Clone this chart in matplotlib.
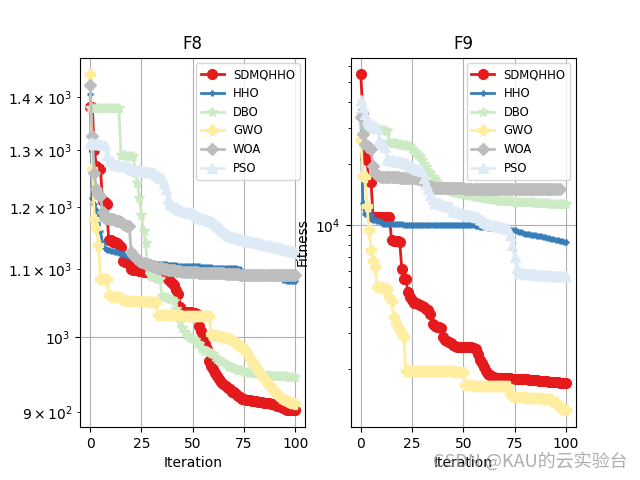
import numpy as np
import matplotlib
matplotlib.use("Agg")
import matplotlib.pyplot as plt

names = ["SDMQHHO", "HHO", "DBO", "GWO", "WOA", "PSO"]
colors = ["#e41a1c", "#377eb8", "#ccebc5", "#ffeda0", "#bdbdbd", "#deebf7"]
markers = ["o", "+", "*", "P", "D", "^"]
titles = ["F8", "F9"]

# ---------------- F8 ----------------
f8_sdmqhho = [1380, 1380, 1300, 1270, 1268, 1265, 1210, 1208, 1205,
              1145, 1145, 1143, 1142, 1140, 1138, 1135,
              1112, 1110, 1110, 1108,
              1100, 1099, 1098, 1098, 1097, 1097, 1096, 1096, 1095, 1095, 1094,
              1093, 1092, 1092, 1091, 1090, 1089, 1087,
              1085, 1082, 1078, 1075, 1068, 1062, 1043,
              1036, 1036, 1035, 1035, 1035, 1034, 1034, 1033,
              1016, 1008, 1001, 990, 983, 967, 960, 956, 951, 946, 943, 938, 936, 934,
              931, 929, 926, 925, 923, 921, 919, 917, 916, 915,
              915, 915, 914, 914, 914, 913, 913, 913, 912,
              911, 911, 910, 910, 909, 908, 907, 906, 905, 904,
              903, 903, 902, 902, 902]
f8_hho = [1405, 1215, 1205, 1195, 1182, 1160, 1140, 1132,
          1130, 1129, 1128, 1128, 1127, 1126, 1125, 1124, 1123, 1122, 1121,
          1120, 1119, 1118, 1117, 1116, 1115, 1114, 1113, 1112, 1111, 1110, 1109,
          1108, 1108, 1108, 1107, 1107, 1107, 1107, 1106, 1106, 1106, 1106, 1106,
          1105, 1105, 1105, 1105, 1105, 1105, 1104, 1104,
          1104, 1104, 1104, 1103, 1103, 1103, 1103, 1103, 1103, 1102, 1102, 1102,
          1102, 1102, 1102, 1102, 1101, 1101, 1101, 1101, 1101, 1100, 1100,
          1092, 1092, 1091, 1091, 1091, 1090, 1090, 1090, 1090, 1089, 1089, 1089,
          1089, 1088, 1088, 1088, 1088, 1087, 1087, 1087,
          1083, 1083, 1082, 1082, 1082, 1082, 1082]
f8_dbo = [1378] * 15 + [1290, 1290, 1290, 1289, 1289, 1288, 1288,
          1258, 1240, 1215, 1186, 1160, 1140, 1100,
          1090, 1088, 1087, 1086, 1085, 1085,
          1059, 1058, 1057, 1056, 1055, 1054, 1052,
          1040, 1030, 1021, 1012, 1007, 1002, 1000, 998, 997, 995, 992, 990, 985,
          983, 981, 980, 979, 978, 976, 972, 970, 968, 966, 965, 963, 960, 959,
          958, 957, 956, 955, 955, 954, 953,
          952, 952, 951, 951, 950, 950, 949, 949, 949, 948,
          948, 948, 947, 947, 947, 947, 946, 946, 946, 946, 946, 945, 945, 945, 945]
f8_gwo = [1445, 1265, 1180, 1165, 1137, 1085, 1085, 1084, 1084,
          1060, 1059, 1058, 1058, 1057, 1057, 1056,
          1053, 1053, 1052, 1052, 1052, 1052, 1052, 1051, 1051, 1051, 1051, 1051,
          1050, 1050, 1050, 1050, 1050,
          1031, 1031, 1031, 1031, 1031, 1031, 1031, 1031, 1031, 1031, 1031, 1031, 1030,
          1030, 1030, 1030, 1030, 1030, 1030, 1030, 1030, 1030, 1030, 1030, 1030, 1030,
          1004, 1002, 1002, 1001, 1001, 1000, 1000, 999, 998, 997,
          995, 993, 991, 989, 987, 985, 983,
          980, 975, 970, 966, 962, 958, 954, 950, 946, 942, 938, 935, 932, 929, 926,
          923, 920, 918, 916, 915, 914, 913, 912, 911, 910]
f8_woa = [1424, 1325, 1258, 1230, 1222, 1218, 1192,
          1182, 1181, 1180, 1180, 1179, 1178, 1177, 1176, 1175,
          1172, 1170, 1169, 1168,
          1127, 1122, 1118, 1115, 1113, 1111, 1109, 1108, 1107, 1106, 1105,
          1104, 1103, 1102, 1101, 1101, 1100, 1100, 1099, 1099, 1098,
          1098, 1097, 1097, 1097, 1096, 1096, 1096, 1096, 1095, 1095,
          1095, 1095, 1094, 1094, 1094, 1094, 1094, 1093, 1093, 1093,
          1093, 1093, 1093, 1093, 1093, 1092, 1092, 1092, 1092, 1092,
          1092, 1092, 1091, 1091, 1091, 1091, 1091, 1091, 1091, 1091,
          1091, 1090, 1090, 1090, 1090, 1090, 1090, 1090, 1090, 1090,
          1090, 1090, 1090, 1090, 1090, 1090, 1090, 1090, 1090, 1090]
f8_pso = [1312, 1312, 1311, 1311, 1310, 1310, 1309, 1308,
          1290, 1280, 1279, 1278,
          1273, 1272, 1272, 1271, 1271, 1270, 1270, 1269,
          1265, 1264, 1264, 1263, 1263, 1262, 1262, 1261, 1261, 1260, 1260, 1259,
          1255, 1253, 1250, 1249, 1240, 1230, 1214, 1206, 1203,
          1200, 1199, 1197, 1195, 1193, 1192, 1191, 1190, 1190, 1189,
          1187, 1185, 1183, 1181, 1180, 1179, 1178, 1177, 1176, 1175,
          1172, 1169, 1166, 1163, 1160, 1157, 1154, 1152, 1151, 1150,
          1149, 1148, 1147, 1146, 1145, 1145, 1144, 1144, 1143, 1143,
          1142, 1141, 1140, 1139, 1138, 1137, 1137, 1136, 1135, 1135,
          1134, 1133, 1132, 1131, 1130, 1130, 1129, 1128, 1128, 1127]

# ---------------- F9 ----------------
f9_sdmqhho = [54500, 35000, 21200, 20800, 16500, 16300,
              11000, 11000, 10980, 10980, 10970, 10960, 10950, 10950, 10940,
              8450, 8420, 8400, 8380, 8300,
              6150, 5500, 5450, 4730, 4500, 4310,
              4200, 4180, 4150, 4100, 4050, 4000,
              3900, 3850, 3710, 3310, 3250, 3200, 3190, 3150,
              2850, 2750, 2720, 2700, 2680,
              2600, 2580, 2560, 2550, 2550, 2550, 2550, 2545, 2540, 2540, 2535, 2500,
              2365, 2195, 2125, 2035, 1950, 1890, 1855, 1820,
              1815, 1812, 1810, 1808, 1805, 1803, 1800, 1797, 1795, 1792,
              1790, 1787, 1785, 1782, 1780, 1777, 1775, 1772, 1768, 1765,
              1760, 1756, 1752, 1748, 1745, 1740, 1736, 1732, 1728, 1724,
              1720, 1715, 1710, 1705, 1700, 1695]
f9_hho = [36600, 12800, 11400, 11400, 11300, 11200,
          10600, 10580, 10550, 10500, 10400,
          10200, 10190, 10180, 10170, 10160, 10150, 10140, 10130, 10120, 10110,
          10100, 10100, 10100, 10100, 10095, 10095, 10095, 10090, 10090, 10090,
          10090, 10085, 10085, 10085, 10080, 10080, 10080, 10080, 10075, 10075,
          10075, 10070, 10070, 10070, 10065, 10065, 10065, 10060, 10060, 10060,
          10060, 10055, 10055, 10050, 10050,
          9900, 9880, 9850, 9820, 9800,
          9780, 9760, 9740, 9720, 9700, 9680, 9660, 9650, 9640, 9630,
          9600, 9560, 9520, 9480, 9450, 9400, 9320, 9250, 9180, 9100,
          9070, 9040, 9000, 8970, 8940, 8910, 8870, 8840, 8800, 8770,
          8720, 8670, 8620, 8570, 8510, 8470, 8420, 8380, 8330, 8290]
f9_dbo = [35000, 31000, 30000, 30000, 29900, 29800, 29700, 29600, 29500, 29400,
          29300, 29200, 29100, 29000,
          25500, 25300, 25200, 25100, 25000, 24900, 24800, 24700, 24600, 24500, 24400,
          23500, 23000, 22500, 22000, 21500, 20800,
          20000, 19300, 18500, 18000, 17200, 16800, 16300, 16000,
          15600, 15400, 15200, 15000, 14800, 14700, 14600, 14500, 14400, 14350,
          14300, 14250, 14200,
          14100, 14000, 13900, 13850, 13800, 13750, 13700, 13650, 13600, 13550,
          13500, 13450, 13400, 13350, 13300,
          13250, 13220, 13200, 13180, 13160, 13140, 13120, 13100, 13080, 13060,
          13040, 13020, 13000, 12990, 12980, 12970, 12960,
          12950, 12930, 12910, 12890, 12870, 12850, 12830, 12810, 12790, 12770,
          12750, 12730, 12710, 12690, 12670, 12660, 12650]
f9_gwo = [26200, 17500, 17300, 12500, 9500, 7550, 6740, 6270,
          5000, 5000, 5000, 4980, 4950, 4900, 4470, 4300,
          3575, 3330, 3200, 3080, 2950, 2850,
          1960, 1960, 1960, 1958, 1958, 1956, 1956, 1955, 1955, 1954,
          1954, 1953, 1952, 1951, 1950, 1950, 1948, 1947, 1946, 1945,
          1944, 1943, 1942, 1940, 1938, 1936, 1934, 1932, 1930,
          1660, 1660, 1658, 1658, 1656, 1656, 1655, 1654, 1653, 1652, 1651,
          1650, 1650, 1649, 1648, 1647, 1646, 1645, 1644, 1643, 1642, 1640,
          1510, 1480,
          1460, 1458, 1456, 1454, 1452, 1450, 1448, 1446, 1444, 1442,
          1440, 1438, 1436, 1434, 1432, 1430, 1427, 1424, 1420,
          1380, 1375, 1330, 1300, 1280, 1260, 1253]
f9_woa = [33700, 28000, 25000, 24500, 24000, 23500, 19500, 18000, 17600, 17500,
          17300, 17280, 17260, 17240, 17220, 17200, 17180, 17160, 17140, 17120,
          17100, 17080, 17060, 17040, 17020, 17000, 16980, 16950, 16930, 16900,
          16500, 16200, 16000, 15800, 15600, 15400, 15300,
          15200, 15200, 15190, 15190, 15180, 15180, 15170, 15170, 15160, 15160,
          15150, 15150, 15140, 15140, 15130, 15130, 15120, 15120, 15110, 15110,
          15100, 15100, 15100, 15090, 15090, 15090, 15080, 15080, 15080, 15070,
          15070, 15070, 15060, 15060, 15060, 15050, 15050, 15050, 15050, 15040,
          15040, 15040, 15040, 15030, 15030, 15030, 15030, 15020, 15020, 15020,
          15020, 15010, 15010, 15010, 15010, 15000, 15000, 15000, 15000, 15000, 15000]
f9_pso = [40700, 38000, 35000, 33000, 31500, 31000, 30800, 30500, 30000,
          26000, 25500, 25000, 24000,
          21000, 20900, 20800, 20700, 20600, 20500, 20400, 20300, 20200, 20100, 20000,
          19500, 19300, 19100, 18900, 18700, 18600, 18500,
          17000, 16000, 15000, 14000, 13500,
          12900, 12850, 12800, 12700, 12600, 12500, 12450, 12400, 12300,
          11800, 11700, 11600, 11500, 11450, 11400, 11350, 11300, 11250, 11200,
          11100, 11050, 11000,
          10800, 10600, 10400, 10300,
          10150, 10100, 10050, 10000, 9950, 9900, 9850, 9800, 9750, 9700, 9650,
          9000, 8000, 7000, 6200,
          5850, 5840, 5830, 5820, 5810, 5800, 5790, 5780, 5770, 5760, 5750, 5740,
          5730, 5720, 5710, 5700, 5695, 5690, 5685, 5680, 5675, 5670, 5660, 5650]

f8_series = [f8_sdmqhho, f8_hho, f8_dbo, f8_gwo, f8_woa, f8_pso]
f9_series = [f9_sdmqhho, f9_hho, f9_dbo, f9_gwo, f9_woa, f9_pso]

marker_kw = {
    "o": dict(markersize=7),
    "+": dict(markersize=5, markeredgewidth=2),
    "*": dict(markersize=7),
    "P": dict(markersize=7),
    "D": dict(markersize=6),
    "^": dict(markersize=7),
}

fig, axes = plt.subplots(1, 2, figsize=(6.4, 4.8), dpi=100)
for k, (ax, series) in enumerate(zip(axes, [f8_series, f9_series])):
    for name, c, m, vals in zip(names, colors, markers, series):
        vals = np.asarray(vals, dtype=float)
        ax.plot(np.arange(len(vals)), vals, color=c, marker=m, lw=2,
                label=name, **marker_kw[m])
    ax.set_yscale("log")
    ax.set_title(titles[k])
    ax.set_xlabel("Iteration")
    ax.grid(True)
    ax.legend(loc="upper right", fontsize="small")
axes[1].set_ylabel("Fitness")

fig.text(0.98, 0.02, "CSDN @KAU的云实验台", ha="right", va="bottom",
         fontsize=13, color="#9a9a9a", alpha=0.8,
         family=["Noto Sans CJK SC", "DejaVu Sans"])

fig.savefig("out.png", dpi=100)
